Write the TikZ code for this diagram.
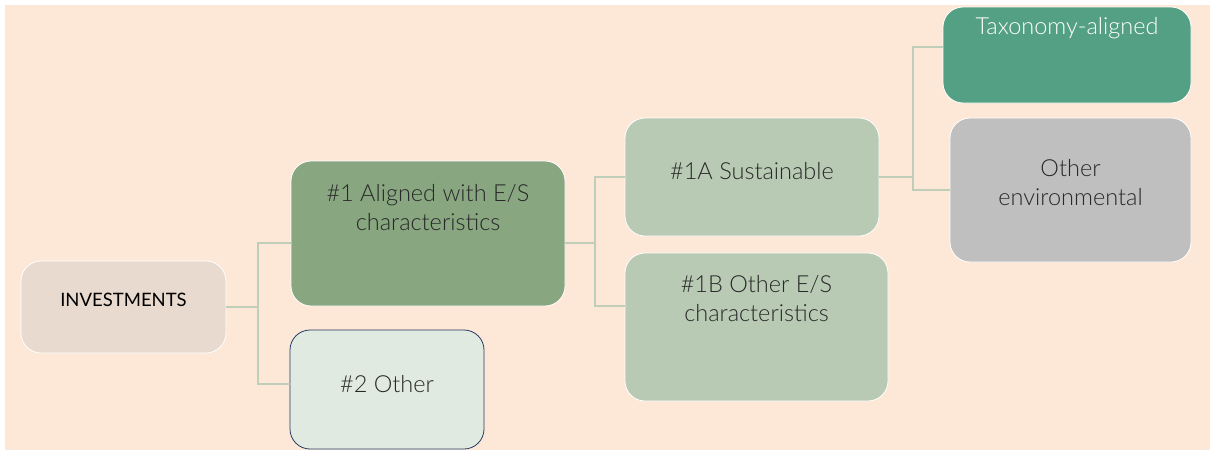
\documentclass[tikz,border=0pt]{standalone}
\usepackage{fontspec}
\setmainfont{Lato}[UprightFont=* Light, BoldFont=* Regular]
\usetikzlibrary{calc, positioning}
\definecolor{peach}{RGB}{253,231,214}
\definecolor{invfill}{RGB}{232,218,206}
\definecolor{alfill}{RGB}{136,166,128}
\definecolor{subfill}{RGB}{184,202,180}
\definecolor{othfill}{RGB}{224,234,224}
\definecolor{othline}{RGB}{40,60,100}
\definecolor{taxfill}{RGB}{84,160,132}
\definecolor{envfill}{RGB}{191,191,191}
\definecolor{linkcol}{RGB}{190,206,184}
\definecolor{txt}{RGB}{40,40,40}
\tikzset{
    box/.style={rectangle, rounded corners=20pt, draw=white, line width=0.8pt, inner sep=0pt},
    boxText/.style={font=\fontsize{23.5}{29}\selectfont, text=txt, align=center, inner sep=0pt},
    link/.style={draw=linkcol, line width=1.2pt},
}
\begin{document}
\begin{tikzpicture}[x=1pt, y=-1pt]

        \useasboundingbox (0,0) rectangle (1214,450);
        \fill[white] (0,0) rectangle (1214,450);
        \fill[peach] (5,5) rectangle (1210,450);

        % boxes
        \node[box, fill=invfill, minimum width=205pt, minimum height=92pt] (inv) at (123.5, 307) {};
        \node[box, fill=alfill, minimum width=274pt, minimum height=145pt] (al) at (428, 233.5) {};
        \node[box, fill=othfill, draw=othline, minimum width=194pt, minimum height=119pt] (oth) at (387, 389.5) {};
        \node[box, fill=subfill, minimum width=254pt, minimum height=118pt] (sus) at (752, 177) {};
        \node[box, fill=subfill, minimum width=263pt, minimum height=148pt] (oes) at (756.5, 327) {};
        \node[box, fill=taxfill, minimum width=248pt, minimum height=96pt] (tax) at (1067, 55) {};
        \node[box, fill=envfill, minimum width=241pt, minimum height=144pt] (env) at (1070.5, 190) {};

        % texts
        \node[boxText, font=\fontsize{18.5}{22}\bfseries, text=black] (invT) at (123.5, 300) {INVESTMENTS};
        \node[boxText] (alT) at (428, 207.5) {\#1 Aligned with E/S\\characteristics};
        \node[boxText] (othT) at (387, 384) {\#2 Other};
        \node[boxText] (susT) at (752, 171) {\#1A Sustainable};
        \node[boxText] (oesT) at (756.5, 299) {\#1B Other E/S\\characteristics};
        \node[boxText, text=white] (taxT) at (1067, 28) {Taxonomy-aligned};
        \node[boxText] (envT) at (1070.5, 182.5) {Other\\environmental};

        % connectors
        \coordinate (j1) at (258, 307);
        \coordinate (j2) at (595, 243);
        \coordinate (j3) at (913, 177);
        \draw[link] (inv.east) -- (j1);
        \draw[link] (j1) |- ([yshift=-9.5pt]al.west);
        \draw[link] (j1) |- ([yshift=5.5pt]oth.west);
        \draw[link] ([yshift=-9.5pt]al.east) -- (j2);
        \draw[link] (j2) |- (sus.west);
        \draw[link] (j2) |- ([yshift=21pt]oes.west);
        \draw[link] (sus.east) -- (j3);
        \draw[link] (j3) |- ([yshift=8pt]tax.west);
        \draw[link] (j3) |- (env.west);

    \end{tikzpicture}
\end{document}
